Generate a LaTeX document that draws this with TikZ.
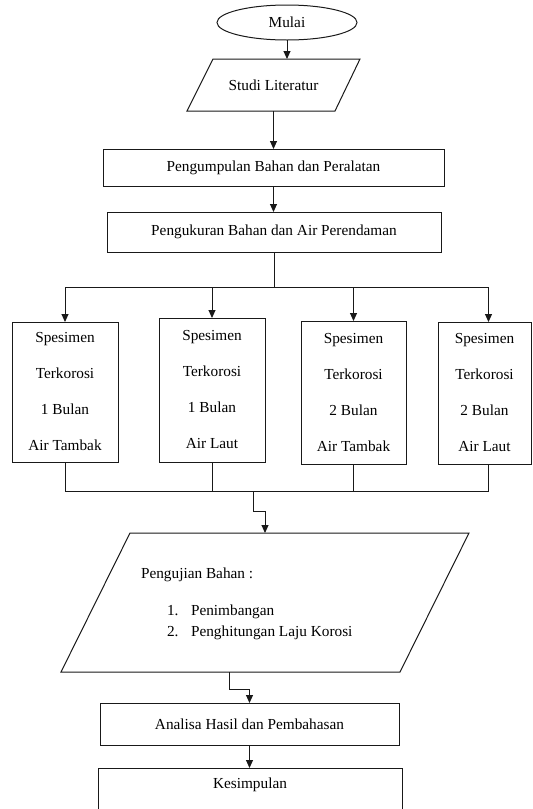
\documentclass[tikz,border=0pt]{standalone}
\usepackage{fontspec}
\setmainfont{Liberation Serif}
\usetikzlibrary{shapes.geometric,arrows.meta,calc}
\begin{document}
\begin{tikzpicture}[x=1pt,y=-1pt,
  every node/.style={font=\rmfamily\fontsize{15.3}{36}\selectfont, inner sep=0pt, outer sep=0pt},
  ln/.style={line width=1pt, draw=black!90},
  arr/.style={ln, -{Triangle[length=8pt,width=7pt]}},
  box/.style={draw=black!90, line width=1pt, rectangle, align=center},
]
\useasboundingbox (0,0) rectangle (533,809);
\clip (0,0) rectangle (533,809);

% start
\node[ellipse, draw=black!90, line width=1pt, minimum width=140pt, minimum height=35pt] (mulai) at (287,22.5) {Mulai};

% studi literatur (parallelogram)
\draw[ln] (213,59) -- (360,59) -- (335,111) -- (187,111) -- cycle;
\node[minimum width=150pt, minimum height=52pt] (studi) at (273.5,85) {Studi Literatur};

\node[box, minimum width=341pt, minimum height=37pt] (kump) at (273.5,167.5) {Pengumpulan Bahan dan Peralatan};
\node[box, minimum width=334pt, minimum height=40pt] (ukur) at (274,232) {Pengukuran Bahan dan Air Perendaman};

% specimens
\node[box, minimum width=106pt, minimum height=140pt] (s1) at (65,392) {Spesimen\\Terkorosi\\1 Bulan\\Air Tambak};
\node[box, minimum width=106pt, minimum height=144pt] (s2) at (212,390) {Spesimen\\Terkorosi\\1 Bulan\\Air Laut};
\node[box, minimum width=105pt, minimum height=143pt] (s3) at (353.5,392.5) {Spesimen\\Terkorosi\\2 Bulan\\Air Tambak};
\node[box, minimum width=93pt, minimum height=142pt] (s4) at (484.5,393) {Spesimen\\Terkorosi\\2 Bulan\\Air Laut};
\coordinate (s4in) at ($(s4.north)+(4,0)$);
\coordinate (s4out) at ($(s4.south)+(4,0)$);

% testing (parallelogram)
\draw[ln] (130,533) -- (469,533) -- (400,672) -- (61,672) -- cycle;
\node[minimum width=200pt, minimum height=139pt] (uji) at (265,602.5) {};
\node[anchor=base west] (ujit) at (141,578) {Pengujian Bahan :};
\node[anchor=base west] (n1) at (167,615) {1.};
\node[anchor=base west] (i1) at (191,615) {Penimbangan};
\node[anchor=base west] (n2) at (167,636) {2.};
\node[anchor=base west] (i2) at (191,636) {Penghitungan Laju Korosi};
\coordinate (ujiout) at (229,672);

\node[box, minimum width=299pt, minimum height=42pt] (anal) at (249.5,724) {Analisa Hasil dan Pembahasan};
\node[box, minimum width=304pt, minimum height=62pt] (kes) at (250,799) {};
\node (kest) at (250,785) {Kesimpulan};

% connectors
\draw[arr] (mulai.south) -- (mulai.south |- studi.north);
\draw[arr] (studi.south) -- (kump.north);
\draw[arr] (kump.south) -- (kump.south |- ukur.north);
\draw[ln] (ukur.south) -- ++(0,35) coordinate (split);
\draw[ln] (s1.north |- split) -- (s4in |- split);
\draw[arr] (s1.north |- split) -- (s1.north);
\draw[arr] (s2.north |- split) -- (s2.north);
\draw[arr] (s3.north |- split) -- (s3.north);
\draw[arr] (s4in |- split) -- (s4in);

\coordinate (merge) at (253,491);
\draw[ln] (s1.south) -- (s1.south |- merge) -- (s4out |- merge) -- (s4out);
\draw[ln] (s2.south) -- (s2.south |- merge);
\draw[ln] (s3.south) -- (s3.south |- merge);
\draw[arr] (merge) -- ++(0,20) -| (uji.north);
\draw[arr] (ujiout) -- ++(0,17) -| (anal.north);
\draw[arr] (anal.south) -- (anal.south |- kes.north);
\end{tikzpicture}
\end{document}
